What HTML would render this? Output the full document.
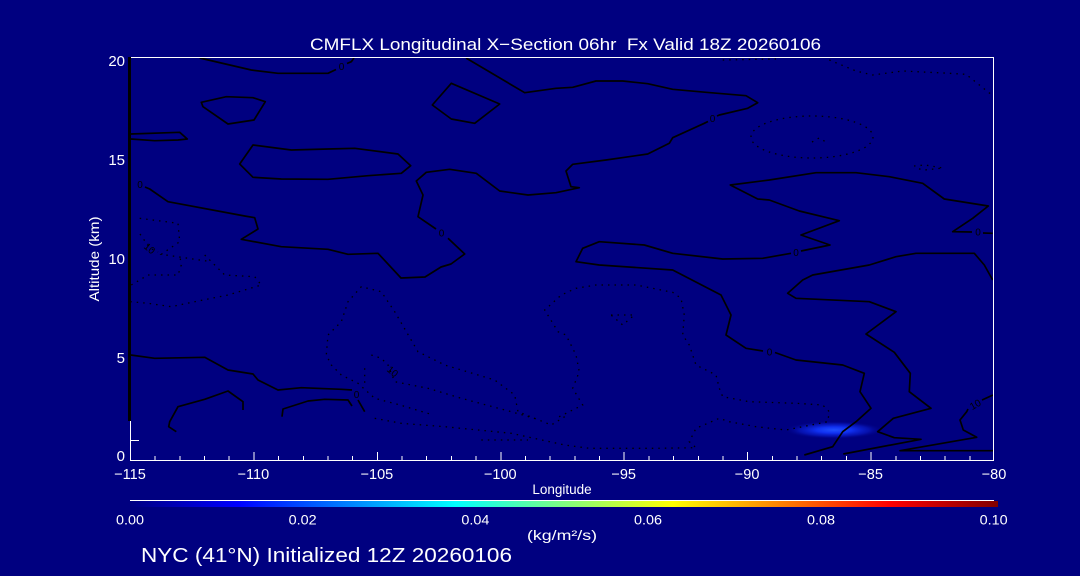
<!DOCTYPE html>
<html><head><meta charset="utf-8"><style>
html,body{margin:0;padding:0;background:#000080;}
svg{display:block;}
text{font-family:"Liberation Sans",sans-serif;fill:#fff;}
</style></head><body>
<svg width="1080" height="576" viewBox="0 0 1080 576" xmlns="http://www.w3.org/2000/svg">
<defs>
<linearGradient id="jet" gradientUnits="userSpaceOnUse" x1="130" y1="0" x2="998" y2="0">
<stop offset="0" stop-color="#000080"/>
<stop offset="0.125" stop-color="#0000ff"/>
<stop offset="0.375" stop-color="#00ffff"/>
<stop offset="0.5" stop-color="#80ff80"/>
<stop offset="0.625" stop-color="#ffff00"/>
<stop offset="0.875" stop-color="#ff0000"/>
<stop offset="1" stop-color="#800000"/>
</linearGradient>
<radialGradient id="blob" cx="0.5" cy="0.5" r="0.5">
<stop offset="0" stop-color="#2050ff"/>
<stop offset="0.35" stop-color="#1030f0"/>
<stop offset="0.7" stop-color="#0818c0" stop-opacity="0.7"/>
<stop offset="1" stop-color="#000080" stop-opacity="0"/>
</radialGradient>
</defs>
<rect width="1080" height="576" fill="#000080"/>

<ellipse cx="834" cy="430" rx="50" ry="9" fill="url(#blob)"/>

<g fill="none" stroke="#000" stroke-width="1.3" stroke-dasharray="1.5 5">
<polyline points="722.7,60 776,59"/>
<polyline points="829.3,60 856,71 872.7,75 902.7,71 949.3,73.3 966,74.3 991,94.3"/>
<ellipse cx="812" cy="137" rx="61" ry="21"/>
<polyline points="812,142 819,138 826,142"/>
<polyline points="914,166 925,165 943,168 925,170 914,168"/>
<polyline points="139.7,218.3 178,223.3 179.7,241.7 161.3,254.3 211,261.7"/>
<polyline points="140,234 149.7,248 158,252"/>
<polyline points="131.3,285 148,275 178,275 181.3,265 179.7,255"/>
<polyline points="204.7,255 224.7,275 254.7,276.7 261.3,285 228,295 194.7,301.7 171.3,306.7 148,303.3 130.7,301.7"/>
<polyline points="564.7,416.7 551.3,425 518,411.7 514.7,395 494.7,380 444.7,365 418,351.7 394.7,311.7 381.3,291.7 361.3,286.7 348,301.7 341.3,321.7 328,335 326.3,355 331.3,365 341.3,375 358,383.3 374.7,398.3 400,405 430,414"/>
<polyline points="371.3,355 381.3,358.3 388,365 394.7,381.7 428,388.3 461.3,398.3 511.3,411.7 540,420"/>
<polyline points="364.7,368.3 364.7,385"/>
<polyline points="374.7,418.3 401.3,423.3 444.7,426.7 478,430 511.3,433.3 564.7,445 589.3,448.3 656,448.3 696,447.7 689.3,441.7 696,428.3 719.3,418.3 729.3,421.7 756,426.7 786,430 827.7,421.7 829.3,411.7 822.7,405 796,403.3 749.3,401.7 722.7,396.7 719.3,388.3 716,375 696,365 689.3,345 682.7,335 684.3,315 681,298.3 672.7,292.3 636,285 596,285 576,288.3 561.3,295 544.7,310 558,331.7 566,335 576,355 579.3,371.7 572.7,388.3 582.7,405 556,418.3"/>
<polyline points="481.3,440 528,440"/>
<polyline points="611,315 634.3,315 622.7,325 611,315"/>
</g>

<g fill="none" stroke="#000" stroke-width="1.7" stroke-linejoin="round">
<polyline points="199.7,58 251.3,70 278,73.3 328,73.3 336,69.5"/>
<polyline points="347,63.5 351.3,61.7 354,58"/>
<polyline points="145,187 149.7,189 168,201.7 244.7,216 254.7,217.7 258,229 241.3,239.3 281.3,246.7 328,249.3 348,254.3 378,253.3 401,278 425,277 441,267 451,264 464.7,254 448,238.3"/>
<polyline points="436,229 418,216.7 423,195 416.3,181 426.3,172.3 449.7,169.3 476.3,173.3 499.7,191 528,195 556,192.7 579.3,187.7 571,186.7 566,171 572.7,164.3 606,160 647.7,154 669.3,143.3 672.7,137.7 704.3,123.3 708,121.5"/>
<polyline points="717,116 719.3,115 747.7,108.3 757.7,102.7 746,95.7 706,92.3 672.7,89.3 647.7,83.7 622.7,81 596,81 572.7,87.3 556,88.3 524.7,92.7 466,58"/>
<polygon points="201.3,102.3 226.3,96.7 253,97.7 265.3,101.7 254,120 228,124 203,106.7"/>
<polyline points="130.7,134 179.7,132.3 187.3,139 178,140 154.7,140.7 130.7,139"/>
<polygon points="253,145 291.3,150 328,149 354.7,148.3 398,154 410.7,165.7 401.3,173.3 368,175.7 328,179.3 281.3,179 253,177.3 239.7,164"/>
<polygon points="451.3,83.3 499.7,104 474.7,123.3 451.3,119 432.3,105"/>
<polyline points="992.7,233.3 983,233"/>
<polyline points="972,232 952.7,231.7 972.7,218.3 988.3,206 944.3,199 922.7,183.3 889.3,176.7 856,172.7 816,172.7 769.3,180 730.3,185 757.7,199 769.3,200 799.3,211 839.3,220.7 801,235 830,245 801,251"/>
<polyline points="791,253.3 762.7,258.3 722.7,259 672.7,253.3 644.3,245 599.3,241.7 582.7,248.3 576,261.7 599.3,265 672.7,270 721,295 731,315 726,335 746,348.3 763,351"/>
<polyline points="775,352.5 796,360 842.7,365 864.3,373.3 860,391.7 871,408.3 856,421.7 842.7,431.7 832.7,446.7 804.3,455"/>
<polyline points="992.7,280 984.3,265 974.3,253.3 916,253.3 896,256.7 869.3,265 812.7,275 802.7,280 787.7,293.3 796,298.3 869.3,301.7 896,311.7 866,334 894.3,352.3 910.3,373.3 909.3,391.7 931,408.3 893.3,418.3 877.7,431.7 894.3,437.7 921,439.3 843.3,454"/>
<polyline points="993,395 982,400"/>
<polyline points="968,409 966.7,411.7 960,420 963.3,430 976.7,437.3 900,450.7 993,450.7"/>
<polyline points="130.7,355 154.7,358.3 204.7,357.3 228,370 253,374 258,380 278,390 301.3,387.7 341.3,389.3 352,390"/>
<polyline points="176.3,431.7 168.7,426.7 169.7,421.7 178,406.7 204.7,399.3 228,391 243,401.7 243,410"/>
<polyline points="282,416.7 283,409 308,401 324.7,399.3 348,400 352,406"/>
<polyline points="358,400 364.7,411.7"/>
</g>
<g font-size="10" text-anchor="middle">
<text x="341.5" y="70" style="fill:#000">0</text>
<text x="140" y="188" style="fill:#000">0</text>
<text x="441.5" y="236.5" style="fill:#000">0</text>
<text x="712.5" y="122" style="fill:#000">0</text>
<text x="978" y="235.5" style="fill:#000">0</text>
<text x="796" y="256" style="fill:#000">0</text>
<text x="769.5" y="355.5" style="fill:#000">0</text>
<text x="356.5" y="398" style="fill:#000">0</text>
<text x="975" y="408" style="fill:#000" transform="rotate(-30 975 404)">10</text>
<text x="393" y="375" style="fill:#000" transform="rotate(40 393 371)">10</text>
<text x="150" y="252" style="fill:#000" transform="rotate(40 150 248)">10</text>
</g>

<g shape-rendering="crispEdges" stroke="#fff" stroke-width="1" fill="none">
<rect x="130.5" y="57.5" width="863" height="403"/>
<path d="M130 440.5 H139"/>
<path d="M130.5 460V452 M155.2 460V456 M179.9 460V456 M204.6 460V456 M229.2 460V456 M253.9 460V452 M278.6 460V456 M303.3 460V456 M328 460V456 M352.7 460V456 M377.4 460V452 M402 460V456 M426.7 460V456 M451.4 460V456 M476.1 460V456 M500.8 460V452 M525.5 460V456 M550.2 460V456 M574.8 460V456 M599.5 460V456 M624.2 460V452 M648.9 460V456 M673.6 460V456 M698.3 460V456 M723 460V456 M747.6 460V452 M772.3 460V456 M797 460V456 M821.7 460V456 M846.4 460V456 M871.1 460V452 M895.8 460V456 M920.4 460V456 M945.1 460V456 M969.8 460V456 M993.5 460V452"/>
</g>
<rect x="128" y="57" width="3" height="364" fill="#000"/>

<text x="310" y="50" font-size="17" textLength="511" lengthAdjust="spacingAndGlyphs" xml:space="preserve">CMFLX Longitudinal X−Section 06hr  Fx Valid 18Z 20260106</text>

<g font-size="15" text-anchor="end">
<text x="125" y="66">20</text>
<text x="125" y="165">15</text>
<text x="125" y="264">10</text>
<text x="125" y="363">5</text>
<text x="125" y="461">0</text>
</g>
<text transform="translate(99 259) rotate(-90)" text-anchor="middle" font-size="14" textLength="85" lengthAdjust="spacingAndGlyphs">Altitude (km)</text>

<g font-size="14.5" text-anchor="middle">
<text x="130" y="479">−115</text>
<text x="253.4" y="479">−110</text>
<text x="376.9" y="479">−105</text>
<text x="500.3" y="479">−100</text>
<text x="623.7" y="479">−95</text>
<text x="747.1" y="479">−90</text>
<text x="870.6" y="479">−85</text>
<text x="994" y="479">−80</text>
</g>
<text x="562" y="494" font-size="13.5" text-anchor="middle">Longitude</text>

<rect x="130" y="500" width="864" height="1" fill="#fff"/>
<rect x="130" y="501" width="868" height="6" fill="url(#jet)"/>
<g font-size="13.5" text-anchor="middle">
<text x="130" y="524.5" textLength="28" lengthAdjust="spacingAndGlyphs">0.00</text>
<text x="302.7" y="524.5" textLength="28" lengthAdjust="spacingAndGlyphs">0.02</text>
<text x="475.4" y="524.5" textLength="28" lengthAdjust="spacingAndGlyphs">0.04</text>
<text x="648" y="524.5" textLength="28" lengthAdjust="spacingAndGlyphs">0.06</text>
<text x="821" y="524.5" textLength="28" lengthAdjust="spacingAndGlyphs">0.08</text>
<text x="993.7" y="524.5" textLength="28" lengthAdjust="spacingAndGlyphs">0.10</text>
</g>
<text x="562" y="540" font-size="14" text-anchor="middle" textLength="70" lengthAdjust="spacingAndGlyphs">(kg/m²/s)</text>

<text x="141" y="562" font-size="20" textLength="371" lengthAdjust="spacingAndGlyphs">NYC (41°N) Initialized 12Z 20260106</text>
</svg>
</body></html>
